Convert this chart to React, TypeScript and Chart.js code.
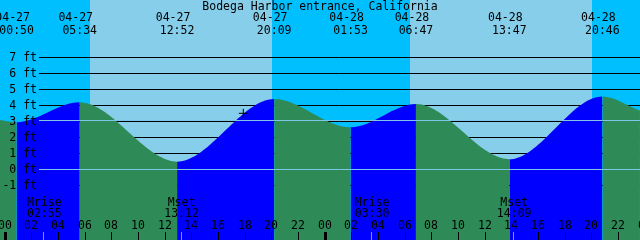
import React, { useEffect, useRef } from "react";
import { Chart, registerables } from "chart.js";

Chart.register(...registerables);

// ---------------- data ----------------
const title = "Bodega Harbor entrance, California";

const extremeDates = ["04-27", "04-27", "04-27", "04-27", "04-28", "04-28", "04-28", "04-28"];
const extremeTimes = ["00:50", "05:34", "12:52", "20:09", "01:53", "06:47", "13:47", "20:46"];
const extremeHeights = [2.95, 4.2, 0.48, 4.41, 2.63, 4.09, 0.63, 4.57];

// tide level (ft) read at the left and right edges of the window
const windowStart = "04-26 23:35";
const windowEnd = "04-28 23:35";
const edgeHeights = [3.09, 3.67];

const sunriseTimes = ["04-27 06:20", "04-28 06:19"];
const sunsetTimes = ["04-27 19:59", "04-28 20:00"];

const moonEvents = ["Mrise", "Mset", "Mrise", "Mset"];
const moonDates = ["04-27", "04-27", "04-28", "04-28"];
const moonTimes = ["02:55", "13:12", "03:30", "14:09"];

const nowTime = "04-27 17:50";
const nowHeight = 3.51;

const levelTicks = [-1, 0, 1, 2, 3, 4, 5, 6, 7];
const datumLevel = 0;
const mslLevel = 3.06;

const hourTicks = [0, 2, 4, 6, 8, 10, 12, 14, 16, 18, 20, 22, 24, 26, 28, 30, 32, 34, 36, 38, 40, 42, 44, 46, 48];
const hourLabels = ["00", "02", "04", "06", "08", "10", "12", "14", "16", "18", "20", "22",
  "00", "02", "04", "06", "08", "10", "12", "14", "16", "18", "20", "22", "00"];

// ---------------- helpers ----------------
function toHours(date: string, time: string): number {
  const day = parseInt(date.split("-")[1], 10) - 27;
  const [hh, mm] = time.split(":").map((v) => parseInt(v, 10));
  return day * 24 + hh + mm / 60;
}
function stamp(s: string): number {
  const [d, t] = s.split(" ");
  return toHours(d, t);
}

const NIGHT = "rgb(0,191,255)";
const DAY = "rgb(135,206,235)";
const FLOOD = "rgb(0,0,255)";
const EBB = "rgb(46,139,87)";
const LIGHT_LINE = "rgb(125,198,232)";
const FONT = '11.5px "DejaVu Sans Mono"';

const tidePoints = [
  { x: stamp(windowStart), y: edgeHeights[0] },
  ...extremeTimes.map((t, i) => ({ x: toHours(extremeDates[i], t), y: extremeHeights[i] })),
  { x: stamp(windowEnd), y: edgeHeights[1] },
];

const tidePlugin = {
  id: "tidePlugin",
  beforeDatasetsDraw(chart: any) {
    const { ctx, chartArea, scales } = chart;
    const { left, right, top, bottom } = chartArea;
    const xs = scales.x;
    const ys = scales.y;
    ctx.save();
    ctx.fillStyle = NIGHT;
    ctx.fillRect(left, top, right - left, bottom - top);
    ctx.fillStyle = DAY;
    sunriseTimes.forEach((r, i) => {
      const x0 = Math.round(xs.getPixelForValue(stamp(r)));
      const x1 = Math.round(xs.getPixelForValue(stamp(sunsetTimes[i])));
      ctx.fillRect(x0, top, x1 - x0, bottom - top);
    });
    ctx.strokeStyle = "#000";
    ctx.lineWidth = 1;
    levelTicks.forEach((l) => {
      const py = Math.floor(ys.getPixelForValue(l)) + 0.5;
      ctx.beginPath();
      ctx.moveTo(39, py);
      ctx.lineTo(right, py);
      ctx.stroke();
    });
    ctx.restore();
  },
  afterDatasetsDraw(chart: any) {
    const { ctx, chartArea, scales } = chart;
    const { left, right } = chartArea;
    const xs = scales.x;
    const ys = scales.y;
    ctx.save();
    // datum and mean sea level lines
    ctx.strokeStyle = LIGHT_LINE;
    ctx.lineWidth = 1;
    [datumLevel, mslLevel].forEach((l) => {
      const py = Math.floor(ys.getPixelForValue(l)) + 0.5;
      ctx.beginPath();
      ctx.moveTo(39, py);
      ctx.lineTo(right, py);
      ctx.stroke();
    });

    ctx.fillStyle = "#000";
    ctx.font = FONT;
    ctx.textBaseline = "alphabetic";

    // level labels
    ctx.textAlign = "right";
    levelTicks.forEach((l) => {
      ctx.fillText(`${l} ft`, 37, Math.floor(ys.getPixelForValue(l)) + 4);
    });

    // title
    ctx.textAlign = "center";
    ctx.fillText(title, (left + right) / 2, 10);

    // extremes labels
    extremeTimes.forEach((t, i) => {
      const px = xs.getPixelForValue(toHours(extremeDates[i], t));
      ctx.fillText(extremeDates[i], px - 4, 21);
      ctx.fillText(t, px, 34);
    });

    // moon labels
    moonEvents.forEach((m, i) => {
      const px = xs.getPixelForValue(toHours(moonDates[i], moonTimes[i]));
      ctx.fillText(m, px, 206);
      ctx.fillText(moonTimes[i], px, 217);
    });

    // hour labels and ticks
    hourTicks.forEach((h, i) => {
      const px = xs.getPixelForValue(h);
      const col = Math.floor(px - 0.5);
      ctx.fillStyle = "#000";
      ctx.fillText(hourLabels[i], col, 229);
      if (h % 24 === 0) ctx.fillRect(col - 1, 232, 3, 8);
      else ctx.fillRect(col, 232, 1, 8);
    });
    ctx.fillStyle = "rgb(150,150,150)";
    moonTimes.forEach((t, i) => {
      const px = xs.getPixelForValue(toHours(moonDates[i], t));
      ctx.fillRect(Math.floor(px - 0.5), 232, 1, 8);
    });
    ctx.restore();
  },
};

export default function App() {
  const ref = useRef<HTMLCanvasElement | null>(null);
  useEffect(() => {
    if (!ref.current) return;
    const chart = new Chart(ref.current, {
      type: "line",
      data: {
        datasets: [
          {
            type: "scatter",
            data: [{ x: stamp(nowTime), y: nowHeight }],
            pointStyle: "cross",
            pointRadius: 4.5,
            pointBorderColor: "#000",
            pointBackgroundColor: "#000",
            pointBorderWidth: 1,
            showLine: false,
          } as any,
          {
            data: tidePoints,
            fill: "start",
            cubicInterpolationMode: "monotone",
            borderWidth: 0,
            borderColor: "transparent",
            backgroundColor: EBB,
            pointRadius: 0,
            segment: {
              backgroundColor: (c: any) => (c.p1.parsed.y > c.p0.parsed.y ? FLOOD : EBB),
              borderColor: () => "transparent",
            },
          } as any,
        ],
      },
      options: {
        animation: false,
        responsive: false,
        events: [],
        layout: { padding: 0, autoPadding: false },
        plugins: { legend: { display: false }, tooltip: { enabled: false } },
        scales: {
          x: { type: "linear", min: stamp(windowStart) + 0.003, max: stamp(windowEnd) + 0.003, display: false },
          y: { type: "linear", min: -4.4326, max: 10.6144, display: false },
        },
      },
      plugins: [tidePlugin],
    });
    return () => chart.destroy();
  }, []);
  return (
    <div style={{ position: "fixed", left: 0, top: 0, width: 640, height: 240 }}>
      <canvas ref={ref} width={640} height={240} style={{ display: "block", width: 640, height: 240 }} />
    </div>
  );
}
